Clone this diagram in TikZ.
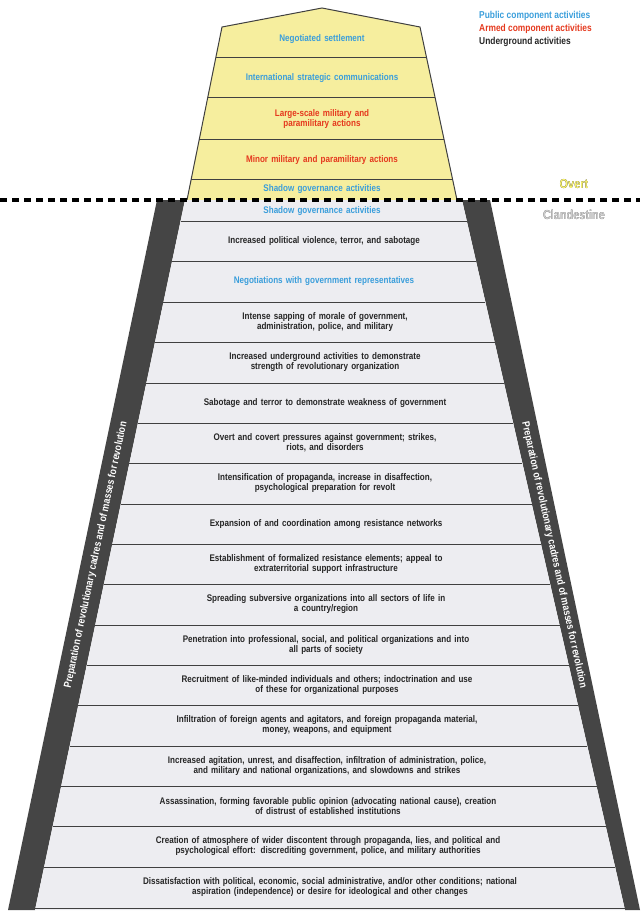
\documentclass[tikz,border=0pt]{standalone}
\usepackage{fontspec}
\setmainfont[FakeStretch=0.84]{Liberation Sans}
\usepackage[outline]{contour}
\contourlength{0.6pt}
\usetikzlibrary{positioning}
\definecolor{pubblue}{HTML}{3A9EDB}
\definecolor{armred}{HTML}{E5391E}
\definecolor{overtyel}{HTML}{F6EE9E}
\definecolor{clandgray}{HTML}{EDEDF1}
\definecolor{banddark}{HTML}{454545}

\begin{document}
\begin{tikzpicture}[x=1pt,y=-1pt,
            row/.style={font=\bfseries\fontsize{9.6}{10.4}\selectfont,align=center,text width=440pt,inner sep=0pt},
            pub/.style={row,text=pubblue},
            arm/.style={row,text=armred},
            und/.style={row,text=black!85},
            sep/.style={draw=black!75,line width=1pt},
            side/.style={font=\bfseries\fontsize{10.5}{12}\selectfont,text=white,inner sep=0pt},
            legend/.style={font=\bfseries\fontsize{10}{11}\selectfont,anchor=west,inner sep=0pt}
          ]
          \useasboundingbox (0,0) rectangle (640,920);

          %overt part
          \fill[overtyel] (187,200) -- (222,27) -- (322,8) -- (420,27) -- (457,200) -- cycle;
          \draw[black!75,line width=1pt] (187,200) -- (222,27) -- (322,8) -- (420,27) -- (457,200);
          \foreach \y in {58,98,140,180}{
            \pgfmathsetmacro{\xl}{222-35/173*(\y-27)}
            \pgfmathsetmacro{\xr}{420+37/173*(\y-27)}
            \draw[sep] (\xl,\y) -- (\xr,\y);
          }

          %clandestine part
          \fill[banddark] (157,200) -- (185,200) -- (35,910) -- (8,910) -- cycle;
          \fill[banddark] (462,200) -- (490,200) -- (640,910) -- (625,910) -- cycle;
          \fill[clandgray] (185,200) -- (462,200) -- (625,910) -- (35,910) -- cycle;
          \foreach \y in {221,261,302,342,383,423,463,504,544,584,625,665,705,746,786,826,867,908}{
            \pgfmathsetmacro{\xl}{185-150/710*(\y-200)}
            \pgfmathsetmacro{\xr}{462+163/710*(\y-200)}
            \draw[sep] (\xl,\y) -- (\xr,\y);
          }

          %dashed border
          \draw[line width=4pt,dash pattern=on 7pt off 5pt] (0,200) -- (640,200);

          %rows
          \node[pub] (settle) at (322,39) {Negotiated settlement};
          \node[pub] (comms) at (322,78) {International strategic communications};
          \node[arm] (large) at (322,119) {Large-scale military and\\paramilitary actions};
          \node[arm] (minor) at (322,160) {Minor military and paramilitary actions};
          \node[pub] (shadowo) at (322,189) {Shadow governance activities};
          \node[pub] (shadowc) at (322,211) {Shadow governance activities};
          \node[und] (viol) at (324,241) {Increased political violence, terror, and sabotage};
          \node[pub] (nego) at (324,281) {Negotiations with government representatives};
          \node[und] (r1) at (325,322) {Intense sapping of morale of government,\\administration, police, and military};
          \node[und] (r2) at (325,362) {Increased underground activities to demonstrate\\strength of revolutionary organization};
          \node[und] (r3) at (325,403) {Sabotage and terror to demonstrate weakness of government};
          \node[und] (r4) at (325,443) {Overt and covert pressures against government; strikes,\\riots, and disorders};
          \node[und] (r5) at (325,483) {Intensification of propaganda, increase in disaffection,\\psychological preparation for revolt};
          \node[und] (r6) at (326,524) {Expansion of and coordination among resistance networks};
          \node[und] (r7) at (326,564) {Establishment of formalized resistance elements; appeal to\\extraterritorial support infrastructure};
          \node[und] (r8) at (326,604) {Spreading subversive organizations into all sectors of life in\\a country/region};
          \node[und] (r9) at (326,645) {Penetration into professional, social, and political organizations and into\\all parts of society};
          \node[und] (r10) at (327,685) {Recruitment of like-minded individuals and others; indoctrination and use\\of these for organizational purposes};
          \node[und] (r11) at (327,725) {Infiltration of foreign agents and agitators, and foreign propaganda material,\\money, weapons, and equipment};
          \node[und] (r12) at (327,766) {Increased agitation, unrest, and disaffection, infiltration of administration, police,\\and military and national organizations, and slowdowns and strikes};
          \node[und,text width=560pt] (r13) at (328,806) {Assassination, forming favorable public opinion (advocating national cause), creation\\of distrust of established institutions};
          \node[und,text width=560pt] (r14) at (328,846) {Creation of atmosphere of wider discontent through propaganda, lies, and political and\\psychological effort: discrediting government, police, and military authorities};
          \node[und,text width=580pt] (r15) at (330,887) {Dissatisfaction with political, economic, social administrative, and/or other conditions; national\\aspiration (independence) or desire for ideological and other changes};

          %side labels
          \node[side,rotate=78.1] (prepl) at (96,555) {Preparation of revolutionary cadres and of masses for revolution};
          \node[side,rotate=-77.6] (prepr) at (554,555) {Preparation of revolutionary cadres and of masses for revolution};

          %overt / clandestine
          \node[font=\bfseries\fontsize{13}{14}\selectfont] (overt) at (574,184) {\contour{black}{\color{overtyel!70!yellow}Overt}};
          \node[font=\bfseries\fontsize{13}{14}\selectfont] (cland) at (574,215) {\contour{black!80}{\color{black!20}Clandestine}};

          %legend
          \node[legend,text=pubblue] (lpub) at (479,16) {Public component activities};
          \node[legend,text=armred,below=3pt of lpub.south west,anchor=north west] (larm) {Armed component activities};
          \node[legend,text=black!85,below=3pt of larm.south west,anchor=north west] (lund) {Underground activities};
      \end{tikzpicture}
\end{document}
